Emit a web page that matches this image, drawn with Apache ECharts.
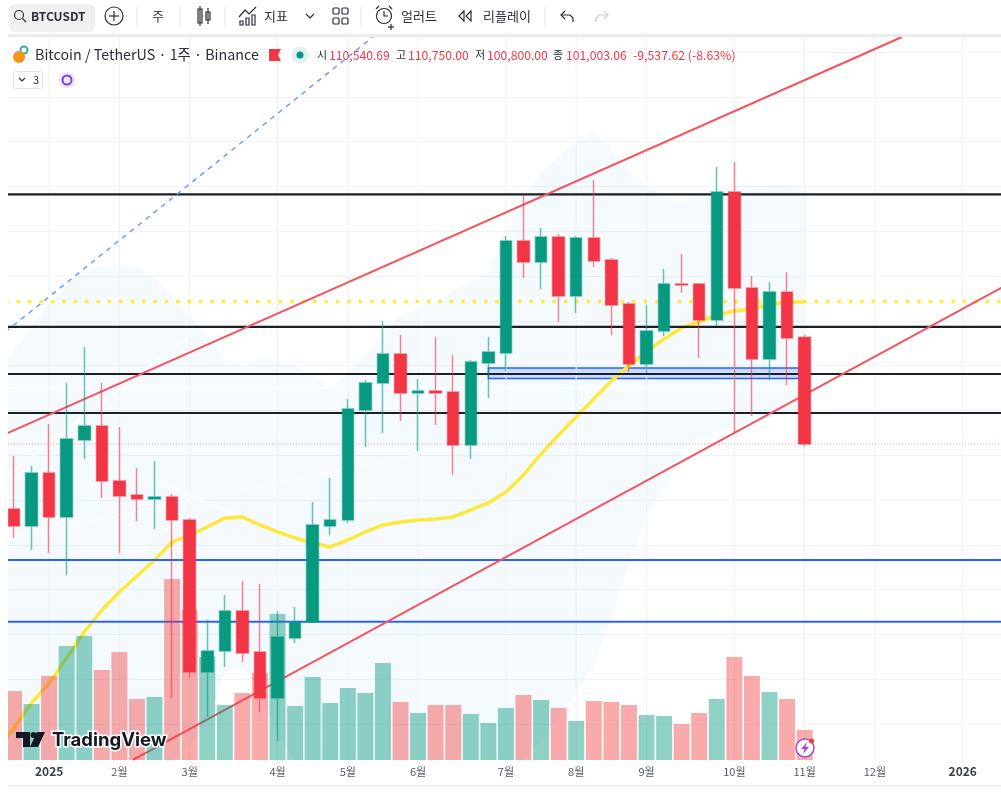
<!DOCTYPE html>
<html>
<head>
<meta charset="utf-8">
<title>BTCUSDT</title>
<style>
  html, body { margin: 0; background: #fff; overflow: hidden; }
  /* a little wider than the window so the last week band still fits the grid */
  #chart { width: 1012px; height: 799px; }
</style>
<script src="https://cdn.jsdelivr.net/npm/echarts@6/dist/echarts.min.js"></script>
</head>
<body>
<div id="chart"></div>
<script>
// weekly candles, index 0 is the week of 2024-12-23
const opens = [95200, 93680, 98410, 94490, 101360, 102610, 97700, 96450, 96090, 96270, 94220, 80650, 82520, 86090, 82430, 78320, 83680, 85110, 93680, 94220, 104040, 106450, 109040, 105560, 105740, 105650, 100910, 108240, 109130, 119130, 117250, 119490, 114220, 119400, 117430, 113500, 108150, 111090, 115290, 115290, 112080, 123500, 114930, 108590, 114570, 110540.69];
const closes = [93680, 98410, 94490, 101450, 102610, 97700, 96360, 96090, 96270, 94220, 80650, 82520, 86090, 82340, 78320, 83770, 85110, 93770, 94220, 104130, 106450, 109040, 105560, 105740, 105560, 100910, 108330, 109220, 119130, 117250, 119490, 114220, 119400, 117340, 113410, 108150, 111090, 115290, 115200, 112080, 123500, 114930, 108590, 114570, 110470, 101003.06];
const highs = [99930, 99040, 102790, 106450, 109660, 106450, 102520, 98860, 99490, 96540, 94400, 85290, 87520, 88770, 88500, 86090, 86450, 95820, 97970, 105020, 106720, 111990, 110740, 106810, 110560, 108950, 108500, 110560, 119580, 123240, 120290, 119750, 119580, 124580, 117610, 113680, 113410, 116630, 117970, 115380, 125740, 126180, 116000, 115470, 116360, 110750];
const lows = [92610, 91540, 91270, 89310, 99660, 96180, 91270, 94130, 93410, 78320, 80110, 76630, 81090, 81540, 77070, 74480, 83230, 85020, 92880, 93950, 100740, 101990, 103060, 100380, 102700, 98240, 99660, 105110, 107520, 115830, 114840, 111900, 112700, 116810, 110740, 107430, 107340, 110650, 114490, 108680, 111540, 102070, 103500, 106720, 106270, 100800];
const volumes = [69000, 56000, 84000, 114000, 124000, 90000, 108000, 61000, 63000, 181000, 150000, 103000, 55000, 67000, 87000, 146000, 54000, 83000, 57000, 72000, 67000, 97000, 58000, 47000, 55000, 55000, 46000, 37000, 52000, 65000, 60000, 52000, 39000, 59000, 58000, 55000, 45000, 44000, 36000, 47000, 61000, 103000, 84000, 68000, 61000, 30000];

// 20 week average and the band around it, first point sits left of the first candle
const bandX = [-0.5, 0, 1, 2, 3, 4, 5, 6, 7, 8, 9, 10, 11, 12, 13, 14, 15, 16, 17, 18, 19, 20, 21, 22, 23, 24, 25, 26, 27, 28, 29, 30, 31, 32, 33, 34, 35, 36, 37, 38, 39, 40, 41, 42, 43, 44, 45];
const maValues = [74660, 75650, 77880, 79660, 81900, 84220, 86180, 87790, 89220, 90650, 92250, 92880, 93590, 94400, 94490, 93770, 93150, 92610, 92160, 91810, 92430, 93150, 93770, 94040, 94220, 94310, 94490, 95110, 95740, 96720, 98240, 100110, 101810, 103410, 105020, 106630, 107970, 109220, 110380, 111360, 111900, 112520, 112880, 113060, 113420, 113680, 113680];
const upperBand = [108330, 109400, 111450, 113590, 115200, 116360, 116810, 116900, 116810, 115920, 114130, 112340, 110740, 108500, 107880, 108770, 108330, 108060, 106990, 106000, 107250, 109040, 110910, 112430, 113060, 113770, 114660, 115470, 116360, 119840, 122970, 125380, 126540, 128060, 128770, 127250, 125290, 124040, 123060, 122520, 123150, 123860, 124040, 124130, 124040, 124040, 123950];
const lowerBand = [72790, 72790, 72790, 72790, 72790, 72790, 72790, 72790, 72790, 72790, 72790, 74130, 76180, 80650, 81180, 79040, 75020, 72790, 72790, 72790, 72790, 72790, 72790, 72790, 72790, 72790, 72790, 72790, 72790, 72790, 72790, 74400, 76540, 78770, 81270, 85730, 90380, 94660, 96900, 100380, 101540, 102160, 102520, 102970, 103330, 103860, 104490];

// time axis
const tickIndexes = [2, 6, 10, 15, 19, 23, 28, 32, 36, 41, 45, 49, 54];
const tickTexts = ["2025", "2월", "3월", "4월", "5월", "6월", "7월", "8월", "9월", "10월", "11월", "12월", "2026"];

// drawn levels and trend lines, as [week index, price]
const blackLevels = [123280, 111450, 107250, 103770];
const blueLevels = [90650, 85140];
const dottedLevel = 113730;
const lastClose = 101003.06;
const upperTrend = [[-0.5, 101880], [50.54, 137340]];
const lowerTrend = [[6.77, 72790], [56.5, 115200]];
const dashedTrend = [[-0.5, 111000], [20.43, 137340]];
const whiteLines = [
  [[-0.5, 106000], [45, 106000]],
  [[-0.5, 92610], [22.9, 100020]],
  [[-0.34, 98230], [10.4, 111180]],
  [[6.03, 99130], [12.86, 94480]],
];
const boxRange = [27, 107790, 44.68, 106850];

const PRICE_TOP = 137340;
const PRICE_BOTTOM = 72790;
const LAST_WEEK = 56.5;
const UP = "#089981";
const DOWN = "#f23645";
const FONT = '"Noto Sans CJK KR", "Noto Sans", sans-serif';

const categories = Array.from({ length: 57 }, (_, i) => {
  const day = new Date(Date.UTC(2024, 11, 23 + i * 7));
  return day.toISOString().slice(0, 10);
});

function drawnLine(points, color, width, extra) {
  return {
    type: "line",
    xAxisIndex: 1,
    yAxisIndex: 0,
    data: points,
    symbol: "none",
    silent: true,
    z: 3,
    lineStyle: Object.assign({ color, width }, extra),
  };
}

function levelLine(price, color, width, extra) {
  return drawnLine([[-0.5, price], [LAST_WEEK, price]], color, width, extra);
}

const gridLinePoints = tickIndexes.flatMap((i) => [[i, PRICE_TOP], [i, PRICE_BOTTOM], [i, null]]);

function renderBand(params, api) {
  if (params.dataIndex !== 0) {
    return null;
  }
  const top = bandX.map((x, i) => api.coord([x, upperBand[i]]));
  const bottom = bandX.map((x, i) => api.coord([x, lowerBand[i]])).reverse();
  return {
    type: "polygon",
    shape: { points: top.concat(bottom) },
    style: { fill: "rgba(33,150,243,0.05)" },
  };
}

function renderBox(params, api) {
  const a = api.coord([api.value(0), api.value(1)]);
  const b = api.coord([api.value(2), api.value(3)]);
  return {
    type: "rect",
    shape: { x: a[0], y: a[1], width: b[0] - a[0], height: b[1] - a[1] },
    style: { fill: "rgba(41,98,255,0.2)", stroke: "#2962ff", lineWidth: 1.5 },
  };
}

// ---- toolbar and legend helpers

function txt(x, y, text, font, fill, align) {
  return {
    type: "text",
    z: 100,
    x,
    y,
    style: { text, font: `${font} ${FONT}`, fill, textAlign: align || "left", textVerticalAlign: "middle" },
  };
}

function stroke(type, shape, color, width) {
  return {
    type,
    z: 100,
    shape,
    style: { fill: "none", stroke: color || "#2a2e39", lineWidth: width || 1.2 },
  };
}

function solid(type, shape, color) {
  return { type, z: 100, shape, style: { fill: color } };
}

const separators = [137, 180, 225, 361, 545].map((x) =>
  stroke("line", { x1: x, y1: 7, x2: x, y2: 26 }, "#e6e8ee", 1)
);

const toolbar = [
  solid("rect", { x: 9, y: 4, width: 86, height: 28, r: 5 }, "#f0f0f0"),
  stroke("circle", { cx: 19, cy: 15, r: 4.5 }),
  stroke("line", { x1: 22.5, y1: 18.5, x2: 26, y2: 22 }),
  txt(31, 16, "BTCUSDT", "bold 12px", "#2a2e39"),
  stroke("circle", { cx: 114, cy: 16, r: 9 }),
  stroke("line", { x1: 114, y1: 11, x2: 114, y2: 21 }),
  stroke("line", { x1: 109, y1: 16, x2: 119, y2: 16 }),
  txt(158, 16, "주", "13px", "#2a2e39", "center"),
  // candle icon
  stroke("rect", { x: 198, y: 9, width: 4, height: 14 }),
  stroke("line", { x1: 200, y1: 6, x2: 200, y2: 26 }),
  stroke("rect", { x: 206, y: 12, width: 4, height: 8 }),
  stroke("line", { x1: 208, y1: 8, x2: 208, y2: 24 }),
  // indicators icon
  stroke("polyline", { points: [[239, 17], [245, 10], [249, 14], [256, 7]] }),
  stroke("rect", { x: 240, y: 21, width: 3, height: 4 }),
  stroke("rect", { x: 246, y: 18, width: 3, height: 7 }),
  stroke("rect", { x: 252, y: 15, width: 3, height: 10 }),
  txt(264, 16, "지표", "13px", "#2a2e39"),
  stroke("polyline", { points: [[306, 14], [310, 18], [314, 14]] }),
  // layouts icon
  stroke("rect", { x: 333, y: 8, width: 6, height: 6, r: 1 }),
  stroke("rect", { x: 342, y: 8, width: 6, height: 6, r: 1 }),
  stroke("rect", { x: 333, y: 18, width: 6, height: 6, r: 1 }),
  stroke("rect", { x: 342, y: 18, width: 6, height: 6, r: 1 }),
  // alert icon
  stroke("circle", { cx: 384, cy: 16, r: 7.5 }),
  stroke("polyline", { points: [[384, 11], [384, 16], [388, 16]] }),
  stroke("line", { x1: 376, y1: 9, x2: 379, y2: 6 }),
  stroke("line", { x1: 392, y1: 9, x2: 389, y2: 6 }),
  stroke("line", { x1: 391, y1: 24, x2: 391, y2: 30 }),
  stroke("line", { x1: 388, y1: 27, x2: 394, y2: 27 }),
  txt(401, 16, "얼러트", "13px", "#2a2e39"),
  // replay icon
  stroke("polygon", { points: [[464, 11], [459, 16], [464, 21]] }),
  stroke("polygon", { points: [[471, 11], [466, 16], [471, 21]] }),
  txt(483, 16, "리플레이", "13px", "#2a2e39"),
  // undo and redo
  stroke("polyline", { points: [[565, 11], [561, 15], [565, 19]] }),
  stroke("polyline", { points: [[561, 15], [570, 15], [573, 18], [573, 22]] }),
  stroke("polyline", { points: [[604, 11], [608, 15], [604, 19]] }, "#c8ccd6"),
  stroke("polyline", { points: [[608, 15], [599, 15], [596, 18], [596, 22]] }, "#c8ccd6"),
  solid("rect", { x: 8, y: 34, width: 1004, height: 3 }, "#ececec"),
];

const legend = [
  solid("circle", { cx: 24, cy: 50, r: 4.5 }, "#3fa69b"),
  solid("circle", { cx: 24, cy: 50, r: 2.5 }, "#ffffff"),
  solid("circle", { cx: 19, cy: 57, r: 6 }, "#f7931a"),
  txt(35, 55, "Bitcoin / TetherUS · 1주 · Binance", "14.3px", "#2a2e39"),
  solid("polygon", { points: [[269, 49], [281, 49], [278, 55], [281, 61], [269, 61]] }, "#f23645"),
  solid("circle", { cx: 300, cy: 55, r: 8.5 }, "#dff2ef"),
  solid("circle", { cx: 300, cy: 55, r: 3.5 }, "#089981"),
  txt(317, 55, "시", "11px", "#2a2e39"),
  txt(329, 55, "110,540.69", "12.2px", "#f23645"),
  txt(396, 55, "고", "11px", "#2a2e39"),
  txt(408, 55, "110,750.00", "12.2px", "#f23645"),
  txt(475, 55, "저", "11px", "#2a2e39"),
  txt(487, 55, "100,800.00", "12.2px", "#f23645"),
  txt(553, 55, "종", "11px", "#2a2e39"),
  txt(566, 55, "101,003.06", "12.2px", "#f23645"),
  txt(633, 55, "-9,537.62 (-8.63%)", "12.3px", "#f23645"),
  {
    type: "rect",
    z: 100,
    shape: { x: 13.5, y: 71.5, width: 29, height: 17, r: 3 },
    style: { fill: "#fff", stroke: "#e0e3eb", lineWidth: 1 },
  },
  stroke("polyline", { points: [[19, 78], [22, 81], [25, 78]] }),
  txt(33, 80, "3", "11px", "#2a2e39"),
  solid("circle", { cx: 67, cy: 80, r: 8.5 }, "#efe8fb"),
  stroke("circle", { cx: 67, cy: 80, r: 4.5 }, "#7b3fe4", 2),
];

const logo = [
  solid("polygon", { points: [[16, 732], [30, 732], [30, 747], [23, 747], [23, 738], [16, 738]] }, "#131722"),
  solid("circle", { cx: 33.5, cy: 735, r: 3 }, "#131722"),
  solid("polygon", { points: [[37, 732], [45, 732], [38, 747], [30, 747]] }, "#131722"),
  {
    type: "text",
    z: 100,
    x: 52,
    y: 740,
    style: {
      text: "TradingView",
      font: `bold 18.5px Inter, ${FONT}`,
      fill: "#131722",
      stroke: "#ffffff",
      lineWidth: 3,
      textVerticalAlign: "middle",
    },
  },
];

const flashBadge = [
  {
    type: "circle",
    z: 100,
    shape: { cx: 805, cy: 748, r: 9 },
    style: { fill: "#fff", stroke: "#a14bd6", lineWidth: 1.5 },
  },
  solid("polygon", { points: [[807, 742], [801, 749], [804.5, 749], [803, 754], [809, 747], [805.5, 747]] }, "#a14bd6"),
  solid("circle", { cx: 811.5, cy: 741, r: 2.5 }, "#f23645"),
];

const frame = [
  solid("rect", { x: 0, y: 0, width: 8, height: 799 }, "#ffffff"),
  solid("rect", { x: 8, y: 785, width: 1004, height: 1.5 }, "#eeeeee"),
];

const chart = echarts.init(document.getElementById("chart"));

chart.setOption({
  animation: false,
  backgroundColor: "#ffffff",
  // one grid, 4000 per 44.8 px, its top and bottom fall outside the drawn area
  grid: { left: 5.2, top: 7.2, width: 1001.5, height: 761.6 },
  xAxis: [
    {
      type: "category",
      data: categories,
      boundaryGap: true,
      axisLine: { show: false },
      axisTick: { show: false },
      splitLine: { show: false },
      axisLabel: {
        interval: (index) => tickIndexes.includes(index),
        margin: 3,
        verticalAlign: "middle",
        color: "#555a66",
        fontFamily: FONT,
        fontSize: 11,
        formatter: (value, index) => {
          const text = tickTexts[tickIndexes.indexOf(index)] || "";
          return /^\d{4}$/.test(text) ? `{year|${text}}` : text;
        },
        rich: { year: { fontWeight: "bold", fontSize: 12, color: "#3a3e4a", fontFamily: FONT } },
      },
    },
    { type: "value", show: false, min: -0.5, max: LAST_WEEK, splitLine: { show: false } },
  ],
  yAxis: [
    {
      type: "value",
      min: 72000,
      max: 140000,
      interval: 4000,
      axisLine: { show: false },
      axisTick: { show: false },
      axisLabel: { show: false },
      splitLine: {
        show: true,
        showMinLine: false,
        showMaxLine: false,
        lineStyle: { color: "#f2f3f6", width: 1 },
      },
    },
    { type: "value", show: false, min: -8800, max: 752800, splitLine: { show: false } },
  ],
  graphic: { elements: [...frame, ...toolbar, ...separators, ...legend, ...logo, ...flashBadge] },
  series: [
    drawnLine(gridLinePoints, "#f0f1f4", 1, {}),
    {
      type: "custom",
      xAxisIndex: 1,
      yAxisIndex: 0,
      silent: true,
      z: 2,
      data: bandX.map((x, i) => [x, lowerBand[i], upperBand[i]]),
      encode: { x: 0, y: [1, 2] },
      renderItem: renderBand,
    },
    ...whiteLines.map((points) => drawnLine(points, "#ffffff", 1.5, {})),
    levelLine(dottedLevel, "#ffeb3b", 3.5, { type: [3.5, 7.9] }),
    drawnLine(bandX.map((x, i) => [x, maValues[i]]), "#fde83c", 3.5, {}),
    ...blackLevels.map((price) => levelLine(price, "#1c1f26", 2.2, {})),
    ...blueLevels.map((price) => levelLine(price, "#2962ff", 2, {})),
    levelLine(lastClose, "#f5949c", 1, { type: [1, 2] }),
    drawnLine(upperTrend, "#f7525f", 2, {}),
    drawnLine(lowerTrend, "#f7525f", 2, {}),
    drawnLine(dashedTrend, "#6f9bf5", 1.5, { type: [5, 5] }),
    {
      type: "custom",
      xAxisIndex: 1,
      yAxisIndex: 0,
      silent: true,
      z: 3,
      data: [boxRange],
      encode: { x: [0, 2], y: [1, 3] },
      renderItem: renderBox,
    },
    {
      type: "bar",
      xAxisIndex: 0,
      yAxisIndex: 1,
      barWidth: 16,
      silent: true,
      z: 4,
      data: volumes.map((value, i) => ({
        value,
        itemStyle: { color: closes[i] >= opens[i] ? "rgba(8,153,129,0.45)" : "rgba(240,60,60,0.43)" },
      })),
    },
    {
      type: "candlestick",
      xAxisIndex: 0,
      yAxisIndex: 0,
      barWidth: 12,
      silent: true,
      z: 5,
      data: opens.map((open, i) => [open, closes[i], lows[i], highs[i]]),
      itemStyle: {
        color: UP,
        color0: DOWN,
        borderColor: "rgba(8,153,129,0.6)",
        borderColor0: "rgba(242,54,69,0.6)",
        borderWidth: 1.5,
      },
    },
  ],
});
</script>
</body>
</html>
